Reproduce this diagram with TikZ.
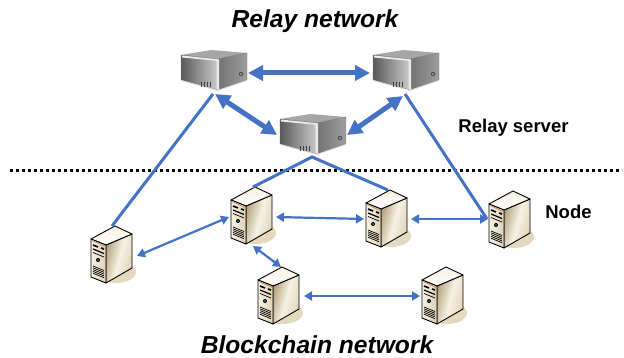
\documentclass[tikz,border=0pt]{standalone}
\usepackage{fontspec}
\setmainfont{Liberation Sans}
\usetikzlibrary{arrows.meta}
\definecolor{linkblue}{RGB}{68,114,196}
\definecolor{shadowtan}{RGB}{226,217,190}
\definecolor{tanlight}{RGB}{246,241,228}
\definecolor{tanmid}{RGB}{222,210,182}
\definecolor{tandark}{RGB}{178,160,122}
\tikzset{
  hub/.style={inner sep=0pt,minimum width=66pt,minimum height=40pt},
  peer/.style={inner sep=0pt,minimum width=42pt,minimum height=56pt},
  uplink/.style={draw=linkblue,line width=3pt},
  trunk/.style={draw=linkblue,line width=5pt,{Triangle[length=15pt,width=15pt]}-{Triangle[length=15pt,width=15pt]}},
  peerlink/.style={draw=linkblue,line width=2.2pt,{Triangle[length=8pt,width=9pt]}-{Triangle[length=8pt,width=9pt]}},
  title/.style={font=\bfseries\itshape\fontsize{24.6}{27}\selectfont,inner sep=0pt},
  tag/.style={font=\bfseries\fontsize{18.5}{21}\selectfont,inner sep=0pt},
  nodeicon/.pic={
    \fill[shadowtan] (4,17) ellipse (20 and 11);
    \path[left color=tandark,right color=tanmid,middle color=tanlight,shading angle=75,draw=black,line width=0.9pt,line join=round]
      (-6,-10) -- (20,-21) -- (20,13) -- (-6,28) -- cycle;
    \path[top color=tanlight,bottom color=white,draw=black,line width=0.9pt,line join=round]
      (-21,-16) -- (3,-29) -- (20,-21) -- (-6,-10) -- cycle;
    \path[left color=tanlight,right color=tanmid,draw=black,line width=0.9pt,line join=round]
      (-21,-16) -- (-6,-10) -- (-6,28) -- (-21,22) -- cycle;
    \draw[tandark!80!orange,line width=0.8pt] (-20,-14.5) -- (-7,-8.5);
    \draw[black,line width=1.6pt] (-19,-10) -- (-14,-8) (-11,-7) -- (-8,-6);
    \draw[black,line width=1.2pt] (-19,-6) -- (-8,-1.5);
    \draw[black,line width=0.7pt] (-19,-2.5) -- (-8,2);
    \fill[black] (-14,5) circle (2);
    \fill[teal!70!white] (-14,5) circle (0.8);
    \foreach \k in {0,1.8,3.6,5.4,7.2}
      \draw[black,line width=0.7pt] (-19,11+\k) -- (-8,15.5+\k);
  },
  relayicon/.pic={
    \fill[black!35] (-33,-15) -- (-3,-20) -- (33,-17) -- (4,-11) -- cycle;
    \path[left color=black!55,right color=black!38,draw=black!55,line width=0.4pt,line join=round]
      (4,-11) -- (33,-17) -- (33,10) -- (4,20) -- cycle;
    \path[left color=black!65,right color=black!20,draw=black!55,line width=0.4pt,line join=round]
      (-33,-15) -- (4,-11) -- (4,20) -- (-33,10) -- cycle;
    \fill[black!8] (-32,-14.5) -- (5,-10.5) -- (5,-9) -- (-32,-12.5) -- cycle;
    \fill[black!8] (2.5,-10) -- (5,-10) -- (5,20) -- (2.5,19) -- cycle;
    \fill[black!12] (-33,10) -- (4,20) -- (4,21) -- (-33,11) -- cycle;
    \fill[black!12] (4,20) -- (33,10) -- (33,11) -- (4,21) -- cycle;
    \foreach \k in {-13,-10,-7,-4}
      \draw[black!75,line width=0.8pt] (\k,12) -- (\k,17);
    \fill[black!70] (27,4) circle (2.2);
    \fill[black!20] (27,4) circle (0.9);
  }
}
\begin{document}
\begin{tikzpicture}[x=1pt,y=-1pt]
\useasboundingbox (0,0) rectangle (624,358);
\node[hub] (R1) at (214,70) {};
\node[hub] (R2) at (406,70) {};
\node[hub] (R3) at (313,134) {};
\node[peer] (A) at (112,255) {};
\node[peer] (B) at (252,216) {};
\node[peer] (C) at (387,219) {};
\node[peer] (D) at (510,220) {};
\node[peer] (E) at (279,296) {};
\node[peer] (F) at (443,296) {};
\coordinate (divL) at (10,171);
\coordinate (divR) at (622,171);
\draw[black,line width=3pt,dash pattern=on 3pt off 3pt] (divL) -- (divR);
\foreach \n in {R1,R2,R3} \pic at (\n) {relayicon};
\foreach \n in {A,B,C,D,E,F} \pic at (\n) {nodeicon};
\draw[uplink] ([shift={(-1,24)}]R1.center) -- ([shift={(0,-29)}]A.center);
\draw[uplink] ([shift={(-1,24)}]R2.center) -- ([shift={(-23,-1)}]D.center);
\draw[uplink,line join=miter] ([shift={(1,-29)}]B.center) -- ([shift={(-1,23)}]R3.center) -- ([shift={(1,-29)}]C.center);
\draw[trunk] ([shift={(34,3)}]R1.center) -- ([shift={(-36,3)}]R2.center);
\draw[trunk] ([shift={(1,24)}]R1.center) -- ([shift={(-36,1)}]R3.center);
\draw[trunk] ([shift={(-3,26)}]R2.center) -- ([shift={(34,1)}]R3.center);
\draw[peerlink] ([shift={(25,1)}]A.center) -- ([shift={(-23,1)}]B.center);
\draw[peerlink] ([shift={(24,1)}]B.center) -- ([shift={(-23,0)}]C.center);
\draw[peerlink] ([shift={(24,0)}]C.center) -- ([shift={(-22,-1)}]D.center);
\draw[peerlink] ([shift={(1,30)}]B.center) -- ([shift={(2,-29)}]E.center);
\draw[peerlink] ([shift={(25,0)}]E.center) -- ([shift={(-23,0)}]F.center);
\node[title] (t1) at (315,21) {Relay network};
\node[title] (t2) at (317,345) {Blockchain network};
\node[tag] (l1) at (513.5,128) {Relay server};
\node[tag] (l2) at (568.5,212) {Node};
\end{tikzpicture}
\end{document}
